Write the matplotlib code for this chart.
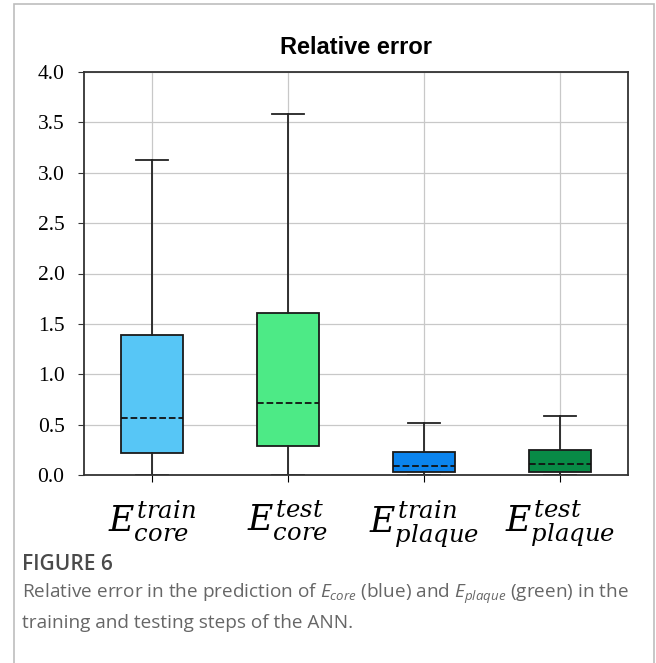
import matplotlib
matplotlib.use("Agg")
import matplotlib.pyplot as plt
from matplotlib.patches import Rectangle

# valores (erro relativo)
labels = [r"$E^{train}_{core}$", r"$E^{test}_{core}$",
          r"$E^{train}_{plaque}$", r"$E^{test}_{plaque}$"]
whislo = [0.0, 0.0, 0.0, 0.0]
q1 = [0.22, 0.29, 0.03, 0.03]
med = [0.57, 0.71, 0.09, 0.11]
q3 = [1.39, 1.61, 0.23, 0.25]
whishi = [3.13, 3.58, 0.52, 0.59]
cores = ["#57c6f6", "#4dea86", "#0b84ee", "#088a46"]

plt.rcParams["mathtext.fontset"] = "custom"
plt.rcParams["mathtext.it"] = "Open Sans:italic"
plt.rcParams["mathtext.rm"] = "Open Sans"

fig = plt.figure(figsize=(6.56, 6.63), dpi=100)

# moldura cinza da figura
fig.patches.append(Rectangle((14 / 656, -0.1), 640 / 656, 1.1 - 4 / 663,
                             transform=fig.transFigure, fill=False,
                             edgecolor="#bdbdbd", lw=1.2))

ax = fig.add_axes([84 / 656, 1 - 475 / 663, 544 / 656, 403 / 663])

stats = []
for i in range(len(labels)):
    stats.append({"whislo": whislo[i], "q1": q1[i], "med": med[i],
                  "q3": q3[i], "whishi": whishi[i], "fliers": []})

bp = ax.bxp(stats, positions=[1, 2, 3, 4], widths=0.45, patch_artist=True,
            showfliers=False,
            boxprops=dict(edgecolor="#1a1a1a", linewidth=1.3),
            medianprops=dict(color="#111111", linestyle="--", linewidth=1.3),
            whiskerprops=dict(color="#222222", linewidth=1.3),
            capprops=dict(color="#222222", linewidth=1.3),
            capwidths=0.23)
for caixa, c in zip(bp["boxes"], cores):
    caixa.set_facecolor(c)

ax.set_xlim(0.5, 4.5)
ax.set_ylim(0, 4.0)
ax.set_yticks([0, 0.5, 1.0, 1.5, 2.0, 2.5, 3.0, 3.5, 4.0])
ax.set_yticklabels([f"{v:.1f}" for v in ax.get_yticks()],
                   fontfamily="Liberation Serif", fontsize=15.5)
ax.set_xticks([1, 2, 3, 4])
ax.set_xticklabels(labels, fontsize=25, math_fontfamily="dejavuserif")
ax.tick_params(axis="x", length=5, pad=12)
ax.tick_params(axis="y", length=4, pad=10, color="#333333")
ax.grid(True, color="#c8c8c8", linewidth=0.9)
ax.set_axisbelow(True)
for s in ax.spines.values():
    s.set_color("#333333")
    s.set_linewidth(1.3)

ax.set_title("Relative error", fontfamily="Liberation Sans", fontweight="bold",
             fontsize=17, pad=13)

# legenda da figura
fig.text(22 / 656, 1 - 564 / 663, "FIGURE 6", fontfamily="Open Sans",
         fontweight="semibold", fontsize=15, color="#4a4a4a", va="center")
fig.text(22 / 656, 1 - 594 / 663,
         r"Relative error in the prediction of $E_{core}$ (blue) and $E_{plaque}$ (green) in the",
         fontfamily="Open Sans", fontsize=13.7, color="#666666", va="center")
fig.text(22 / 656, 1 - 623 / 663, "training and testing steps of the ANN.",
         fontfamily="Open Sans", fontsize=13.7, color="#666666", va="center")

fig.savefig("out.png", dpi=100)
